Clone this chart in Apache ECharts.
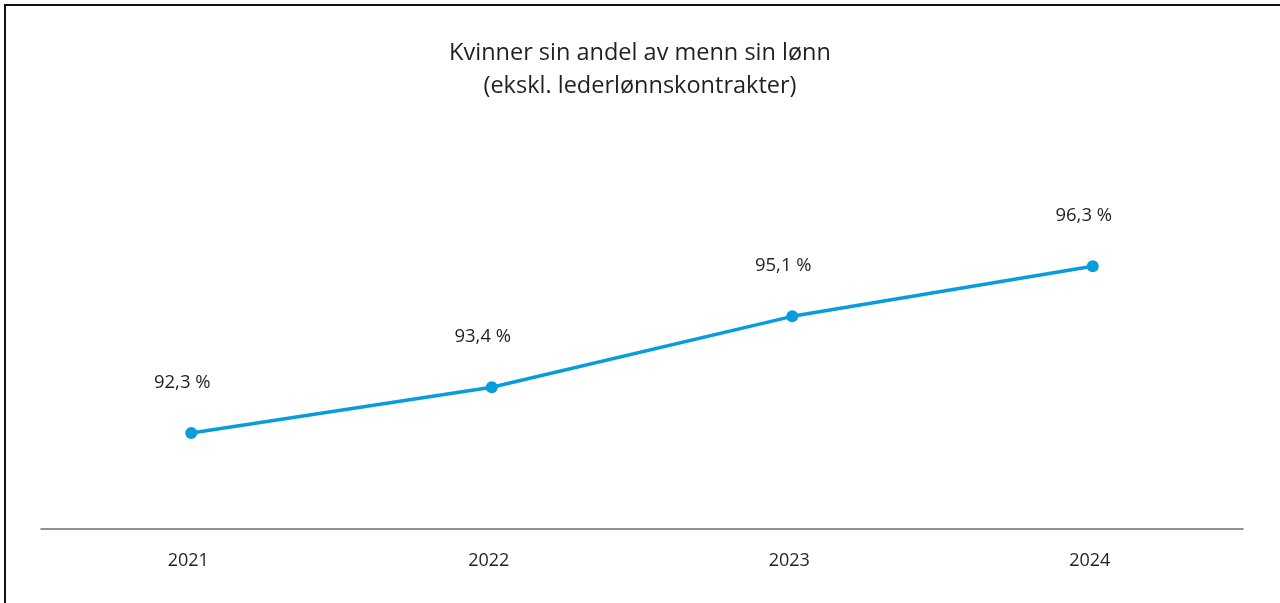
<!DOCTYPE html>
<html>
<head>
<meta charset="utf-8">
<script src="https://cdn.jsdelivr.net/npm/echarts@6/dist/echarts.min.js"></script>
<style>
html,body{margin:0;padding:0;background:#fff;}
#chart{width:1280px;height:603px;}
</style>
</head>
<body>
<div id="chart"></div>
<script>
const titleLines = ['Kvinner sin andel av menn sin lønn', '(ekskl. lederlønnskontrakter)'];
const categories = ['2021', '2022', '2023', '2024'];
const values = [92.3, 93.4, 95.1, 96.3];

const chart = echarts.init(document.getElementById('chart'));
const font = '"Open Sans", "Noto Sans", sans-serif';
chart.setOption({
  animation: false,
  backgroundColor: '#ffffff',
  title: {
    text: titleLines.join('\n'),
    left: 'center',
    top: 32,
    textStyle: {
      fontFamily: font,
      fontSize: 23.5,
      fontWeight: 'normal',
      color: '#231f20',
      lineHeight: 33
    }
  },
  graphic: [
    { type: 'line', shape: { x1: 4, y1: 5, x2: 1280, y2: 5 }, style: { stroke: '#111', lineWidth: 2 } },
    { type: 'line', shape: { x1: 5, y1: 4, x2: 5, y2: 603 }, style: { stroke: '#111', lineWidth: 2 } }
  ],
  grid: { left: 41, width: 1202, top: 112, bottom: 74 },
  xAxis: {
    type: 'category',
    data: categories,
    boundaryGap: true,
    axisLine: { lineStyle: { color: '#6d6e70', width: 1.5 } },
    axisTick: { show: false },
    axisLabel: { fontFamily: font, fontSize: 18, color: '#231f20', margin: 23, padding: [0, 6, 0, 0] }
  },
  yAxis: {
    type: 'value',
    min: 90,
    max: 100,
    show: false
  },
  series: [{
    type: 'line',
    data: values,
    symbol: 'circle',
    symbolSize: 12,
    lineStyle: { color: '#079ddb', width: 3.5 },
    itemStyle: { color: '#079ddb' },
    label: {
      show: true,
      position: 'top',
      distance: 35,
      offset: [-9, 0],
      fontFamily: font,
      fontSize: 18.5,
      color: '#231f20',
      formatter: p => p.value.toFixed(1).replace('.', ',') + ' %'
    }
  }]
});
</script>
</body>
</html>
